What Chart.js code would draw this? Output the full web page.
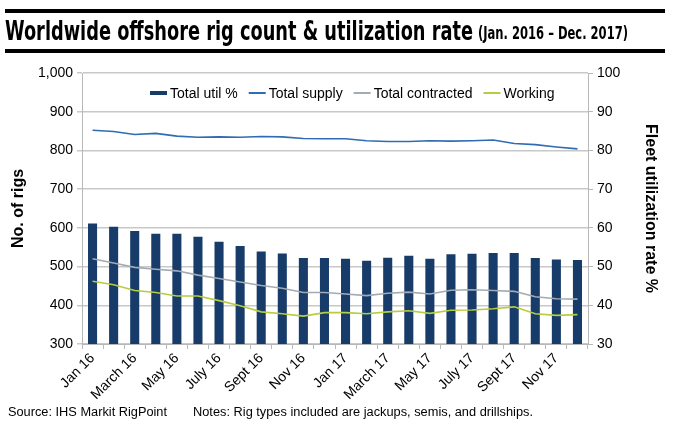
<!DOCTYPE html>
<html>
<head>
<meta charset="utf-8">
<script src="https://cdn.jsdelivr.net/npm/chart.js@4.4.1/dist/chart.umd.min.js"></script>
<style>
  body { margin: 0; background: #fff; }
  #wrap { position: relative; width: 675px; height: 446px; overflow: hidden; background: #fff; }
  #chart { position: absolute; left: 0; top: 0; }
  .rule { position: absolute; left: 5px; width: 660px; height: 4px; background: #000; }
  .fit { position: absolute; white-space: nowrap; transform-origin: 0 0; color: #000; }
  #title { left: 5px; top: 17px; font: bold 27px "Liberation Sans Narrow", "DejaVu Sans Condensed", sans-serif; line-height: 27px; }
  #sub { top: 25px; font: bold 17px "Liberation Sans Narrow", "DejaVu Sans Condensed", sans-serif; line-height: 17px; }
  .foot { top: 405px; font: 12.5px "Liberation Sans", Arial, sans-serif; line-height: 14px; }
</style>
</head>
<body>
<div id="wrap">
  <canvas id="chart" width="675" height="446"></canvas>
  <div class="rule" style="top:9px"></div>
  <div class="rule" style="top:49px"></div>
  <div id="title" class="fit" data-w="468">Worldwide offshore rig count &amp; utilization rate</div>
  <div id="sub" class="fit" data-x="478" data-w="150">(Jan. 2016 – Dec. 2017)</div>
  <div class="fit foot" data-x="8" data-w="159">Source: IHS Markit RigPoint</div>
  <div class="fit foot" data-x="193" data-w="340">Notes: Rig types included are jackups, semis, and drillships.</div>
</div>
<script>
// monthly, Jan 2016 - Dec 2017
const months = ['Jan 16', 'Feb 16', 'March 16', 'April 16', 'May 16', 'June 16',
  'July 16', 'Aug 16', 'Sept 16', 'Oct 16', 'Nov 16', 'Dec 16',
  'Jan 17', 'Feb 17', 'March 17', 'April 17', 'May 17', 'June 17',
  'July 17', 'Aug 17', 'Sept 17', 'Oct 17', 'Nov 17', 'Dec 17'];

const utilPct = [61.1, 60.3, 59.2, 58.5, 58.5, 57.7, 56.4, 55.3, 53.9, 53.4, 52.2, 52.2,
  52.0, 51.5, 52.3, 52.8, 52.0, 53.2, 53.3, 53.5, 53.5, 52.2, 51.8, 51.7];
const totalSupply = [852, 849, 841, 844, 837, 834, 835, 834, 836, 835, 831, 830,
  830, 825, 823, 823, 825, 824, 825, 827, 818, 815, 809, 804];
const totalContracted = [520, 509, 498, 493, 489, 478, 469, 460, 451, 444, 433, 433,
  429, 425, 431, 434, 429, 439, 440, 438, 436, 422, 417, 416];
const working = [462, 453, 438, 433, 424, 424, 412, 399, 383, 378, 372, 381,
  381, 378, 383, 386, 379, 387, 388, 391, 396, 378, 374, 376];

const FONT = '"Liberation Sans", Arial, sans-serif';

// legend drawn inside the plot, like the original
const innerLegend = {
  id: 'innerLegend',
  afterDatasetsDraw(chart) {
    const ctx = chart.ctx;
    let x = 150;
    const y = 93;
    ctx.save();
    ctx.font = '14px ' + FONT;
    ctx.textBaseline = 'middle';
    chart.data.datasets.forEach(ds => {
      ctx.strokeStyle = ds.type === 'bar' ? ds.backgroundColor : ds.borderColor;
      ctx.lineWidth = ds.type === 'bar' ? 4 : 2;
      ctx.beginPath();
      ctx.moveTo(x, y);
      ctx.lineTo(x + 17, y);
      ctx.stroke();
      ctx.fillStyle = '#000';
      ctx.fillText(ds.label, x + 20, y + 1);
      x += 20 + ctx.measureText(ds.label).width + 11;
    });
    ctx.restore();
  }
};

new Chart(document.getElementById('chart'), {
  type: 'bar',
  data: {
    labels: months,
    datasets: [
      { type: 'bar', label: 'Total util %', data: utilPct, yAxisID: 'y1',
        backgroundColor: '#173c69', barPercentage: 0.43, categoryPercentage: 1, order: 2 },
      { type: 'line', label: 'Total supply', data: totalSupply, yAxisID: 'y',
        borderColor: '#2f6cb3', borderWidth: 1.6, pointRadius: 0, tension: 0, order: 1 },
      { type: 'line', label: 'Total contracted', data: totalContracted, yAxisID: 'y',
        borderColor: '#a3aab3', borderWidth: 1.6, pointRadius: 0, tension: 0, order: 1 },
      { type: 'line', label: 'Working', data: working, yAxisID: 'y',
        borderColor: '#b7cc3f', borderWidth: 1.6, pointRadius: 0, tension: 0, order: 1 }
    ]
  },
  options: {
    responsive: false,
    animation: false,
    layout: { padding: { top: 73, left: 0, right: 0, bottom: 0 } },
    plugins: { legend: { display: false }, tooltip: { enabled: false } },
    scales: {
      x: {
        offset: true,
        grid: { display: true, drawOnChartArea: false, offset: true, tickLength: 5, color: '#b8b8b8' },
        border: { color: '#b8b8b8' },
        ticks: {
          autoSkip: false, minRotation: 45, maxRotation: 45, padding: 1,
          color: '#000', font: { family: FONT, size: 14 },
          callback: (v, i) => (i % 2 === 0 ? months[i] : '')
        },
        afterFit: s => { s.height = 102; }
      },
      y: {
        position: 'left', min: 300, max: 1000,
        ticks: { stepSize: 100, color: '#000', font: { family: FONT, size: 14 }, padding: 4 },
        grid: { color: '#c8c8c8', lineWidth: 1.5, tickLength: 5 },
        border: { color: '#b8b8b8' },
        title: { display: true, text: 'No. of rigs', color: '#000',
          font: { family: FONT, size: 16, weight: 'bold' }, padding: { top: 9, bottom: 0 } },
        afterFit: s => { s.width = 82; }
      },
      y1: {
        position: 'right', min: 30, max: 100,
        ticks: { stepSize: 10, color: '#000', font: { family: FONT, size: 14 }, padding: 4 },
        grid: { drawOnChartArea: false, color: '#b8b8b8', tickLength: 5 },
        border: { color: '#b8b8b8' },
        title: { display: true, text: 'Fleet utilization rate %', color: '#000',
          font: { family: FONT, size: 16, weight: 'bold' }, padding: { top: 15, bottom: 0 } },
        afterFit: s => { s.width = 87; }
      }
    }
  },
  plugins: [innerLegend]
});

// squeeze heading and footer texts to the widths they have in the original
document.querySelectorAll('.fit').forEach(el => {
  if (el.dataset.x) el.style.left = el.dataset.x + 'px';
  const w = el.getBoundingClientRect().width;
  el.style.transform = 'scaleX(' + (el.dataset.w / w) + ')';
});
</script>
</body>
</html>
